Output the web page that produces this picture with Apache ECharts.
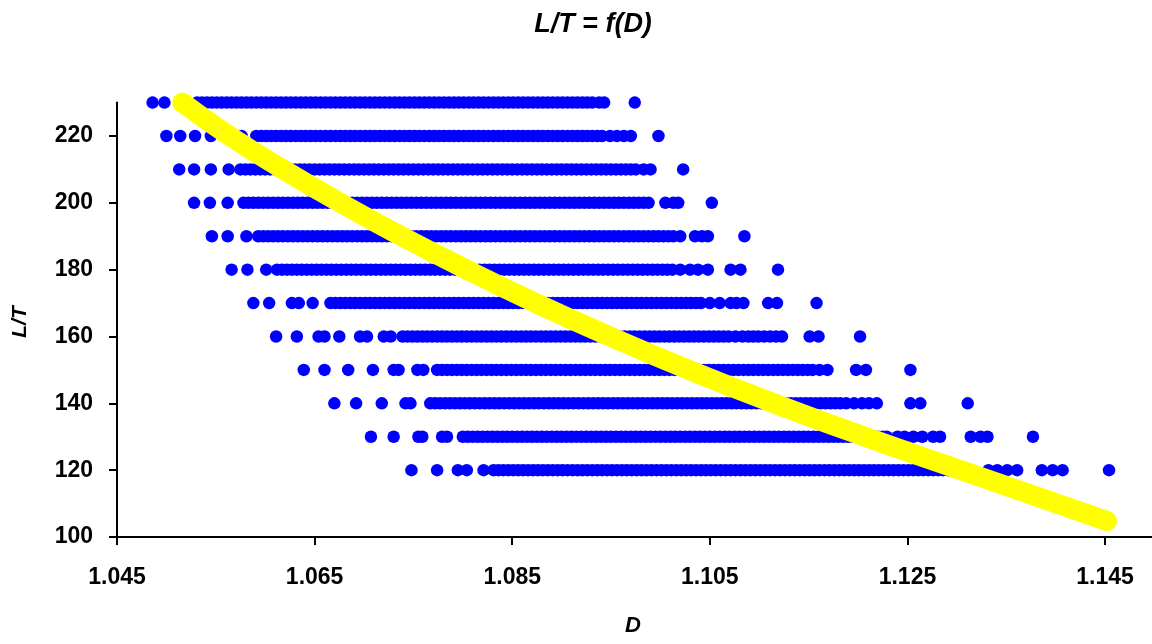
<!DOCTYPE html>
<html>
<head>
<meta charset="utf-8">
<script src="https://cdn.jsdelivr.net/npm/echarts@6/dist/echarts.min.js"></script>
<style>
  html, body { margin: 0; padding: 0; background: #fff; }
  #chart { width: 1152px; height: 644px; }
</style>
</head>
<body>
<div id="chart"></div>
<script>
// D values per L/T level, stored as ten-thousandths above 1 (e.g. 531 -> 1.0531)
const d230 = [486,498,514, 531,536,541,546,551,556,561,566,571,576,581,586,591,596,601,606,611,616,621,626,631,636,641,646,651,656,661,666,671,676,681,686,691,696,701,706,711,716,721,726,731,736,741,746,751,756,761,766,771,776,781,786,791,796,801,806,811,816,821,826,831,836,841,846,851,856,861,866,871,876,881,886,891,896,901,906,911,916,921,926,931, 938,943, 974];
const d220 = [500,514,529,545,561,576, 591,596,601,606,611,616,621,626,631,636,641,646,651,656,661,666,671,676,681,686,691,696,701,706,711,716,721,726,731,736,741,746,751,756,761,766,771,776,781,786,791,796,801,806,811,816,821,826,831,836,841,846,851,856,861,866,871,876,881,886,891,896,901,906,911,916,921,926,931,936,941, 949,956,963,970, 998];
const d210 = [513,528,545,563, 575,580,585,590,595,600,605,610,615,620,625,630,635,640,645,650,655,660,665,670,675,680,685,690,695,700,705,710,715,720,725,730,735,740,745,750,755,760,765,770,775,780,785,790,795,800,805,810,815,820,825,830,835,840,845,850,855,860,865,870,875,880,885,890,895,900,905,910,915,920,925,930,935,940,945,950,955,960,965,970,975, 983,990, 1023];
const d200 = [528,544,562, 578,583,588,593,598,603,608,613,618,623,628,633,638,643,648,653,658,663,668,673,678,683,688,693,698,703,708,713,718,723,728,733,738,743,748,753,758,763,768,773,778,783,788,793,798,803,808,813,818,823,828,833,838,843,848,853,858,863,868,873,878,883,888,893,898,903,908,913,918,923,928,933,938,943,948,953,958,963,968,973,978,983,988, 1005,1013,1018, 1052];
const d190 = [546,562,581, 593,598,603,608,613,618,623,628,633,638,643,648,653,658,663,668,673,678,683,688,693,698,703,708,713,718,723,728,733,738,743,748,753,758,763,768,773,778,783,788,793,798,803,808,813,818,823,828,833,838,843,848,853,858,863,868,873,878,883,888,893,898,903,908,913,918,923,928,933,938,943,948,953,958,963,968,973,978,983,988,993,998,1003,1008,1013,1020, 1035,1042,1048, 1085];
const d180 = [566,582,601, 612,617,622,627,632,637,642,647,652,657,662,667,672,677,682,687,692,697,702,707,712,717,722,727,732,737,742,747,752,757,762,767,772,777,782,787,792,797,802,807,812,817,822,827,832,837,842,847,852,857,862,867,872,877,882,887,892,897,902,907,912,917,922,927,932,937,942,947,952,957,962,967,972,977,982,987,992,997,1002,1007,1012, 1020,1030,1038,1048, 1071,1081, 1119];
const d170 = [588,604,627,634,648, 666,671,676,681,686,691,696,701,706,711,716,721,726,731,736,741,746,751,756,761,766,771,776,781,786,791,796,801,806,811,816,821,826,831,836,841,846,851,856,861,866,871,876,881,886,891,896,901,906,911,916,921,926,931,936,941,946,951,956,961,966,971,976,981,986,991,996,1001,1006,1011,1016,1021,1026,1031,1036,1041, 1050,1060,1071,1077,1084, 1109,1118, 1158];
const d160 = [611,632,654,660,675,696,703,720,727, 739,744,749,754,759,764,769,774,779,784,789,794,799,804,809,814,819,824,829,834,839,844,849,854,859,864,869,874,879,884,889,894,899,904,909,914,919,924,929,934,939,944,949,954,959,964,969,974,979,984,989,994,999,1004,1009,1014,1019,1024,1029,1034,1039,1044,1049,1054,1059,1064,1069, 1076,1083,1089,1094,1099,1105,1111,1117,1123, 1151,1160, 1202];
const d150 = [639,660,684,709,730,735,754,760, 774,779,784,789,794,799,804,809,814,819,824,829,834,839,844,849,854,859,864,869,874,879,884,889,894,899,904,909,914,919,924,929,934,939,944,949,954,959,964,969,974,979,984,989,994,999,1004,1009,1014,1019,1024,1029,1034,1039,1044,1049,1054,1059,1064,1069,1074,1079,1084,1089,1094,1099,1104,1109,1114,1119,1124,1129,1134,1139,1144,1149,1154,1161,1169, 1198,1208, 1253];
const d140 = [670,692,718,742,747, 767,772,777,782,787,792,797,802,807,812,817,822,827,832,837,842,847,852,857,862,867,872,877,882,887,892,897,902,907,912,917,922,927,932,937,942,947,952,957,962,967,972,977,982,987,992,997,1002,1007,1012,1017,1022,1027,1032,1037,1042,1047,1052,1057,1062,1067,1072,1077,1082,1087,1092,1097,1102,1107,1112,1117,1122,1127,1132,1137,1142,1147,1152,1157,1162,1167,1172,1177,1182,1188,1196,1204,1211,1219, 1253,1263, 1311];
const d130 = [707,730,755,759,779,784, 800,805,810,815,820,825,830,835,840,845,850,855,860,865,870,875,880,885,890,895,900,905,910,915,920,925,930,935,940,945,950,955,960,965,970,975,980,985,990,995,1000,1005,1010,1015,1020,1025,1030,1035,1040,1045,1050,1055,1060,1065,1070,1075,1080,1085,1090,1095,1100,1105,1110,1115,1120,1125,1130,1135,1140,1145,1150,1155,1160,1165,1170,1175,1180,1185,1190,1195,1200,1205,1210,1215,1220,1225,1229, 1240,1247,1256,1265,1276,1283, 1314,1324,1331, 1377];
const d120 = [748,774,795,804,821, 831,836,841,846,851,856,861,866,871,876,881,886,891,896,901,906,911,916,921,926,931,936,941,946,951,956,961,966,971,976,981,986,991,996,1001,1006,1011,1016,1021,1026,1031,1036,1041,1046,1051,1056,1061,1066,1071,1076,1081,1086,1091,1096,1101,1106,1111,1116,1121,1126,1131,1136,1141,1146,1151,1156,1161,1166,1171,1176,1181,1186,1191,1196,1201,1206,1211,1216,1221,1226,1231,1236,1241,1246,1251,1256,1261,1266,1271,1276,1281,1286,1291,1296,1303, 1314,1332,1341,1351,1361, 1386,1397,1407, 1454];

// L/T level of each row above
const levels = [230, 220, 210, 200, 190, 180, 170, 160, 150, 140, 130, 120];
const rowsD = [d230, d220, d210, d200, d190, d180, d170, d160, d150, d140, d130, d120];

// fitted curve L/T = f(D)
const fitD  = [1.0516, 1.0564, 1.0618, 1.0676, 1.0738, 1.0804, 1.0874, 1.0949, 1.1029, 1.1115, 1.1207, 1.1304, 1.1452];
const fitLT = [230, 220, 210, 200, 190, 180, 170, 160, 150, 140, 130, 120, 104.8];

// axis tick labels
const xTicks = [1.045, 1.065, 1.085, 1.105, 1.125, 1.145];
const yTicks = [100, 120, 140, 160, 180, 200, 220];

const FONT = '"Liberation Sans", Arial, Helvetica, sans-serif';

const points = [];
levels.forEach((lt, i) => rowsD[i].forEach(u => points.push([1 + u / 10000, lt])));
const fit = fitD.map((d, i) => [d, fitLT[i]]);

const chart = echarts.init(document.getElementById('chart'), null, { renderer: 'canvas' });
chart.setOption({
  backgroundColor: '#ffffff',
  animation: false,
  grid: { left: 117, top: 102.6, right: 0, bottom: 107, containLabel: false },
  xAxis: {
    type: 'value',
    min: 1.045,
    max: 1.14975,
    splitLine: { show: false },
    axisLine: { onZero: false, lineStyle: { color: '#000', width: 2 } },
    axisTick: { show: true, length: 8, inside: false, customValues: xTicks, lineStyle: { color: '#000', width: 2 } },
    axisLabel: {
      customValues: xTicks,
      margin: 29,
      color: '#000',
      fontFamily: FONT,
      fontWeight: 'bold',
      fontSize: 23,
      formatter: v => v.toFixed(3)
    }
  },
  yAxis: {
    type: 'value',
    min: 100,
    max: 230,
    splitLine: { show: false },
    axisLine: { onZero: false, lineStyle: { color: '#000', width: 2 } },
    axisTick: { show: true, length: 8, inside: false, customValues: yTicks, lineStyle: { color: '#000', width: 2 } },
    axisLabel: {
      customValues: yTicks,
      margin: 24,
      color: '#000',
      fontFamily: FONT,
      fontWeight: 'bold',
      fontSize: 23
    }
  },
  graphic: [
    { type: 'text', x: 593, y: 25, style: { text: 'L/T = f(D)', font: 'italic bold 27px ' + FONT, fill: '#000', textAlign: 'center', textVerticalAlign: 'middle' } },
    { type: 'text', x: 633, y: 626, style: { text: 'D', font: 'italic bold 22px ' + FONT, fill: '#000', textAlign: 'center', textVerticalAlign: 'middle' } },
    { type: 'text', x: 20, y: 322, rotation: Math.PI / 2, style: { text: 'L/T', font: 'italic bold 21px ' + FONT, fill: '#000', textAlign: 'center', textVerticalAlign: 'middle' } }
  ],
  series: [
    {
      type: 'scatter',
      data: points,
      symbol: 'circle',
      symbolSize: 12.5,
      clip: false,
      itemStyle: { color: '#0000ff', opacity: 1 }
    },
    {
      type: 'line',
      data: fit,
      smooth: true,
      showSymbol: false,
      clip: false,
      lineStyle: { color: '#ffff00', width: 20, cap: 'round', join: 'round' }
    }
  ]
});
</script>
</body>
</html>
